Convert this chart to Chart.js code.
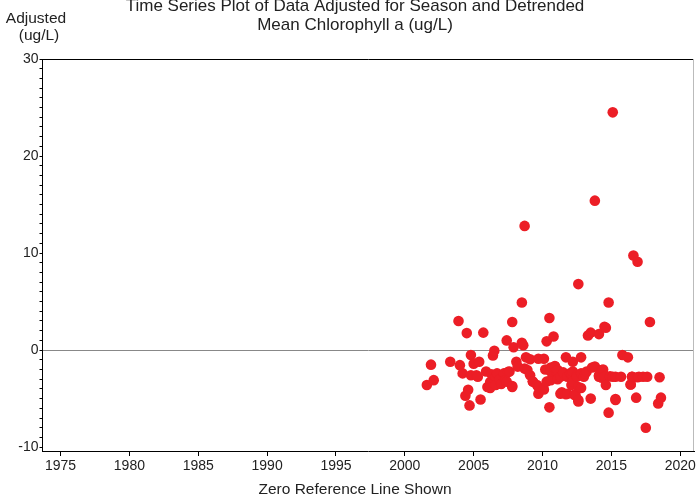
<!DOCTYPE html>
<html>
<head>
<meta charset="utf-8">
<script src="https://cdn.jsdelivr.net/npm/chart.js@4.4.1/dist/chart.umd.min.js"></script>
<style>
  html, body { margin: 0; padding: 0; background: #fff; }
  canvas { display: block; }
</style>
</head>
<body>
<canvas id="chloroPlot" width="697" height="496"></canvas>
<script>
// decimal year of each sample
const years = [
    2001.6, 2001.9, 2002.1, 2003.3, 2003.9, 2004.0, 2004.2, 2004.4, 2004.5, 2004.6,
    2004.7, 2004.8, 2004.8, 2005.0, 2005.2, 2005.3, 2005.4, 2005.5, 2005.7, 2005.9,
    2006.0, 2006.2, 2006.2, 2006.3, 2006.4, 2006.5, 2006.6, 2006.6, 2006.7, 2006.9,
    2007.0, 2007.2, 2007.3, 2007.4, 2007.4, 2007.5, 2007.6, 2007.8, 2007.8, 2007.8,
    2007.9, 2008.1, 2008.2, 2008.5, 2008.5, 2008.6, 2008.7, 2008.7, 2008.8, 2008.9,
    2009.1, 2009.1, 2009.3, 2009.3, 2009.6, 2009.7, 2009.7, 2009.7, 2010.1, 2010.1,
    2010.2, 2010.3, 2010.3, 2010.5, 2010.5, 2010.6, 2010.6, 2010.6, 2010.8, 2010.9,
    2010.9, 2011.0, 2011.1, 2011.1, 2011.3, 2011.3, 2011.4, 2011.5, 2011.7, 2011.7,
    2011.8, 2011.8, 2012.0, 2012.1, 2012.1, 2012.2, 2012.2, 2012.2, 2012.3, 2012.4,
    2012.5, 2012.5, 2012.6, 2012.6, 2012.6, 2012.6, 2012.8, 2012.8, 2012.8, 2013.0,
    2013.1, 2013.2, 2013.3, 2013.5, 2013.5, 2013.6, 2013.8, 2013.8, 2014.1, 2014.1,
    2014.1, 2014.3, 2014.3, 2014.4, 2014.5, 2014.5, 2014.6, 2014.6, 2014.8, 2014.8,
    2014.9, 2015.1, 2015.1, 2015.3, 2015.3, 2015.3, 2015.7, 2015.8, 2016.2, 2016.4,
    2016.4, 2016.5, 2016.5, 2016.6, 2016.8, 2016.9, 2016.9, 2017.0, 2017.3, 2017.5,
    2017.6, 2017.8, 2018.4, 2018.5, 2018.6
];
// adjusted chlorophyll a (ug/L)
const adjusted = [
    -3.6, -1.5, -3.1, -1.2, 3.0, -1.55, -2.4, -4.7, 1.75, -4.1,
    -5.7, -0.5, -2.6, -1.4, -2.6, -2.75, -1.2, -5.1, 1.8, -2.2,
    -3.8, -3.3, -3.9, -2.5, -0.55, -0.07, -2.75, -3.6, -2.4, -3.0,
    -3.5, -2.4, -3.1, 1.0, -3.25, -2.25, -2.2, 2.9, -3.8, -3.7,
    0.3, -1.2, -1.7, 0.75, 4.9, 0.5, 12.8, -1.9, -0.75, -2.05,
    -0.95, -2.6, -3.25, -3.25, -3.6, -0.9, -4.5, -3.8, -0.9, -4.05,
    -2.0, 0.9, -3.25, 3.3, -5.9, -1.8, -3.1, -2.2, 1.4, -1.65,
    -1.7, -2.2, -3.0, -2.05, -4.5, -2.75, -4.35, -2.3, -0.75, -4.55,
    -2.75, -4.5, -2.4, -3.6, -2.4, -1.2, -2.2, -3.25, -4.6, -4.65,
    -2.55, -2.75, 6.8, -5.3, -3.8, -5.15, -0.75, -3.9, -2.4, -2.75,
    -2.4, -2.2, 1.5, 1.8, -5.0, -1.8, 15.4, -1.7, 1.65, -2.75,
    -2.6, -2.05, -2.85, -2.0, 2.4, -2.75, 2.3, -3.6, 4.9, -6.45,
    -2.7, 24.5, -2.75, -5.05, -2.75, -5.15, -2.75, -0.5, -0.75, -3.55,
    -3.55, -2.75, -2.75, 9.75, -4.9, 9.1, -2.8, -2.75, -2.75, -8.0,
    -2.75, 2.9, -5.5, -2.8, -4.9
];
const xTickYears = [1975, 1980, 1985, 1990, 1995, 2000, 2005, 2010, 2015, 2020];
const yTickValues = [];
for (let v = -10; v <= 30; v++) yTickValues.push(v);
const yLabelValues = [-10, 0, 10, 20, 30];

const titleLines = ['Time Series Plot of Data Adjusted for Season and Detrended', 'Mean Chlorophyll a (ug/L)'];
const yTitleLines = ['Adjusted', '(ug/L)'];
const xTitle = 'Zero Reference Line Shown';

const FONT = '"Liberation Sans", Arial, sans-serif';
const TEXT = '#222';

const points = years.map((yr, i) => ({ x: yr, y: adjusted[i] }));

// titles and the top/right frame
const decorations = {
    id: 'decorations',
    afterDraw(chart) {
        const ctx = chart.ctx;
        const a = chart.chartArea;
        ctx.save();
        ctx.lineWidth = 1;
        ctx.strokeStyle = '#000';
        ctx.beginPath();
        ctx.moveTo(a.left, a.top + 0.5);
        ctx.lineTo(a.right, a.top + 0.5);
        ctx.stroke();
        ctx.strokeStyle = '#bbb';
        ctx.beginPath();
        ctx.moveTo(a.right - 0.5, a.top);
        ctx.lineTo(a.right - 0.5, a.bottom);
        ctx.stroke();

        ctx.fillStyle = TEXT;
        ctx.textAlign = 'center';
        ctx.textBaseline = 'alphabetic';
        ctx.font = '17px ' + FONT;
        ctx.fillText(titleLines[0], 355, 11);
        ctx.fillText(titleLines[1], 355, 30);
        ctx.font = '15.5px ' + FONT;
        ctx.fillText(yTitleLines[0], 36, 23);
        ctx.fillText(yTitleLines[1], 39, 40);
        ctx.fillText(xTitle, 355, 494);
        ctx.restore();
    }
};

const config = {
    type: 'scatter',
    data: {
        datasets: [{
            label: 'Adjusted',
            data: points,
            backgroundColor: 'rgb(236, 30, 38)',
            borderWidth: 0,
            pointRadius: 5.3,
        }]
    },
    options: {
        responsive: false,
        animation: false,
        layout: { autoPadding: false, padding: { top: 59, right: 3, left: 0, bottom: 0 } },
        plugins: {
            legend: { display: false },
            tooltip: { enabled: false },
        },
        scales: {
            x: {
                type: 'linear',
                min: 1973.69,
                max: 2021.0,
                afterBuildTicks: (s) => { s.ticks = xTickYears.map(v => ({ value: v })); },
                afterFit: (s) => { s.height = 45; s.paddingLeft = 0; s.paddingRight = 0; },
                ticks: {
                    autoSkip: false,
                    maxRotation: 0,
                    padding: 2,
                    color: TEXT,
                    font: { family: FONT, size: 14 },
                    callback: (v) => String(v),
                },
                grid: { drawOnChartArea: false, color: '#000', tickLength: 5 },
                border: { color: '#000', width: 1 },
            },
            y: {
                type: 'linear',
                min: -10.4,
                max: 30,
                afterBuildTicks: (s) => { s.ticks = yTickValues.map(v => ({ value: v })); },
                afterFit: (s) => { s.width = 42.5; s.paddingTop = 0; s.paddingBottom = 0; },
                ticks: {
                    autoSkip: false,
                    padding: 1,
                    color: TEXT,
                    font: { family: FONT, size: 14 },
                    callback: (v) => yLabelValues.includes(v) ? String(v) : '',
                },
                grid: {
                    color: (c) => (c.tick && c.tick.value === 0) ? '#888' : 'rgba(0,0,0,0)',
                    tickColor: '#000',
                    tickLength: 3,
                },
                border: { color: '#000', width: 1 },
            }
        }
    },
    plugins: [decorations]
};

const plotCtx = document.getElementById('chloroPlot').getContext('2d');
var chloroChart = new Chart(plotCtx, config);
</script>
</body>
</html>
